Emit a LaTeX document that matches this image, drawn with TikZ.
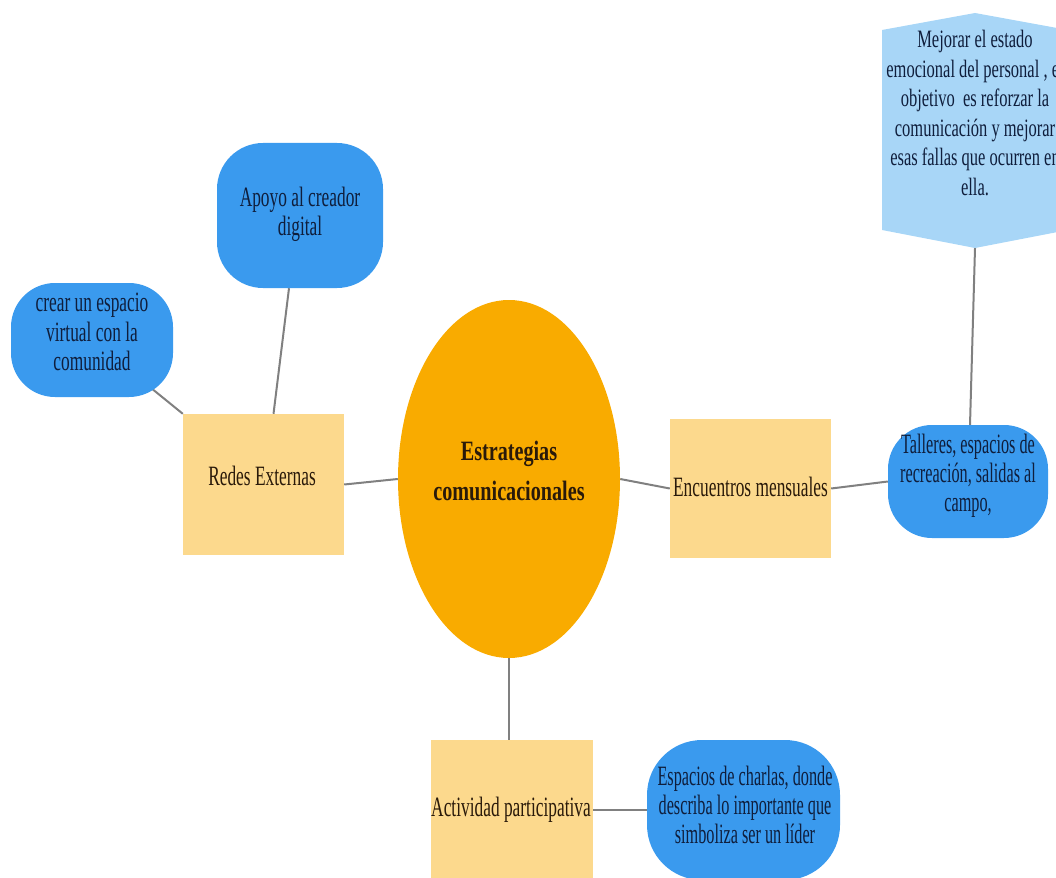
\documentclass[tikz,border=0pt]{standalone}
\usepackage{fontspec}
\setmainfont{Liberation Serif}
\newfontfamily\condA{Liberation Serif}[FakeStretch=0.62]
\newfontfamily\condD{Liberation Serif}[FakeStretch=0.58]
\newfontfamily\condB{Liberation Serif}[FakeStretch=0.66]
\newfontfamily\condC{Liberation Serif}[FakeStretch=0.72]
\usetikzlibrary{shapes.geometric,calc}
\definecolor{orangeC}{HTML}{F9AB00}
\definecolor{boxC}{HTML}{FCD98D}
\definecolor{blueC}{HTML}{3A9AEE}
\definecolor{lblueC}{HTML}{A8D6F7}
\definecolor{blueT}{HTML}{0F1E3C}
\definecolor{boxT}{HTML}{2A1A0A}
\definecolor{lineC}{HTML}{808080}
\pgfdeclarelayer{bg}
\pgfsetlayers{bg,main}
\tikzset{
  sqbox/.style={rectangle, fill=boxC, inner sep=0pt},
  bluebox/.style={rectangle, rounded corners=46pt, fill=blueC, inner sep=0pt},
  sqtext/.style={inner sep=0pt, align=center, text=boxT, font=\condA\fontsize{28}{29.5}\selectfont},
  bluetext/.style={inner sep=0pt, align=center, text=blueT, font=\condA\fontsize{28}{29.5}\selectfont},
  bluetextn/.style={inner sep=0pt, align=center, text=blueT, font=\condD\fontsize{28}{29}\selectfont},
  conn/.style={draw=lineC, line width=2pt}
}
\begin{document}
\begin{tikzpicture}[x=1pt,y=-1pt]
\useasboundingbox (0,0) rectangle (1056,877);
\clip (0,0) rectangle (1056,877);
% central ellipse
\node[ellipse, fill=orangeC, minimum width=222pt, minimum height=358pt, inner sep=0pt] (elli) at (509,479) {};
\node[inner sep=0pt, align=center, text=boxT, font=\condC\bfseries\fontsize{28}{40}\selectfont] (elliT) at (509,471)
  {Estrategias\\comunicacionales};
% squares
\node[sqbox, minimum width=161pt, minimum height=141pt] (redes) at (263.5,484.5) {};
\node[sqtext] (redesT) at (262,475.5) {Redes Externas};
\node[sqbox, minimum width=161pt, minimum height=139pt] (enc) at (750.5,488.5) {};
\node[sqtext] (encT) at (750.5,486.5) {Encuentros mensuales};
\node[sqbox, minimum width=162pt, minimum height=140pt] (act) at (512,810) {};
\node[sqtext] (actT) at (511,810) {Actividad participativa};
% blue nodes
\node[bluebox, minimum width=166pt, minimum height=145pt] (apoyo) at (300,215.5) {};
\node[bluetext] (apoyoT) at (300,214.5) {Apoyo al creador\\digital};
\node[bluebox, minimum width=162pt, minimum height=114pt, rounded corners=44pt] (crear) at (92,340) {};
\node[bluetext] (crearT) at (92,332) {crear un espacio\\virtual con la\\comunidad};
\node[bluebox, minimum width=160pt, minimum height=113pt, rounded corners=44pt] (talleres) at (968,481.5) {};
\node[bluetextn] (talleresT) at (968,475.5) {Talleres, espacios de\\recreación, salidas al\\campo,};
\node[bluebox, minimum width=193pt, minimum height=140pt, rounded corners=55pt] (espacios) at (743.5,810) {};
\node[bluetextn] (espaciosT) at (745,805) {Espacios de charlas, donde\\describa lo importante que\\simboliza ser un líder};
% hexagon-like top right shape
\fill[lblueC] (882,30) -- (975,13) -- (1068,30) -- (1068,230) -- (975,248) -- (882,230) -- cycle;
\coordinate (hexbot) at (975,248);
\node[align=center, text=blueT, inner sep=0pt, font=\condB\fontsize{25}{29.5}\selectfont] (mejorar) at (975,113)
  {Mejorar el estado\\emocional del personal , el\\objetivo\ \ es reforzar la\\comunicación y mejorar\\esas fallas que ocurren en\\ella.};
% connectors
\begin{pgfonlayer}{bg}
\draw[conn] (redes.east) -- (elli.west);
\draw[conn] ([xshift=10pt]redes.north) -- ([xshift=-11pt]apoyo.south);
\draw[conn] (crear.center) -- (redes.north west);
\draw[conn] (elli.east) -- (enc.west);
\draw[conn] (enc.east) -- (talleres.west);
\draw[conn] ([xshift=2pt]talleres.north) -- (hexbot);
\draw[conn] (elli.south) -- (elli.south |- act.north);
\draw[conn] (act.east) -- (espacios.west);
\end{pgfonlayer}
\end{tikzpicture}
\end{document}
